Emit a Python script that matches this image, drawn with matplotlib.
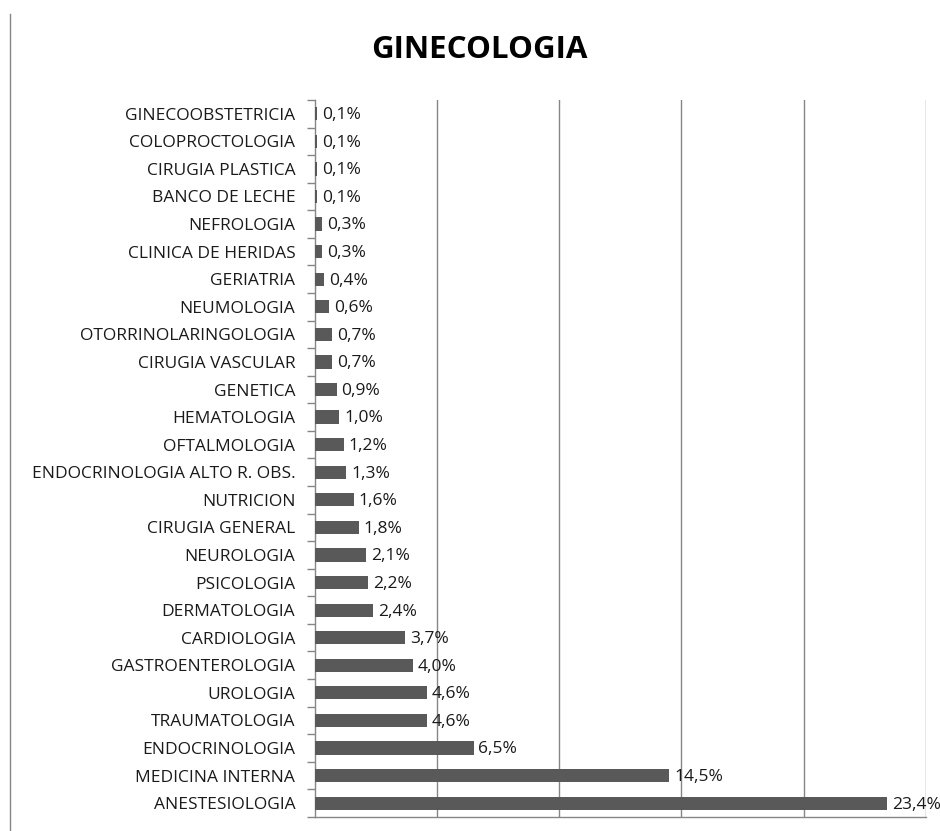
import matplotlib
matplotlib.use("Agg")
import matplotlib.pyplot as plt
from matplotlib.lines import Line2D

# ── datos (de arriba hacia abajo) ─────────────────────────
categorias = [
    "GINECOOBSTETRICIA", "COLOPROCTOLOGIA", "CIRUGIA PLASTICA", "BANCO DE LECHE",
    "NEFROLOGIA", "CLINICA DE HERIDAS", "GERIATRIA", "NEUMOLOGIA",
    "OTORRINOLARINGOLOGIA", "CIRUGIA VASCULAR", "GENETICA", "HEMATOLOGIA",
    "OFTALMOLOGIA", "ENDOCRINOLOGIA ALTO R. OBS.", "NUTRICION", "CIRUGIA GENERAL",
    "NEUROLOGIA", "PSICOLOGIA", "DERMATOLOGIA", "CARDIOLOGIA",
    "GASTROENTEROLOGIA", "UROLOGIA", "TRAUMATOLOGIA", "ENDOCRINOLOGIA",
    "MEDICINA INTERNA", "ANESTESIOLOGIA",
]
porcentajes = [
    0.1, 0.1, 0.1, 0.1, 0.3, 0.3, 0.4, 0.6, 0.7, 0.7, 0.9, 1.0, 1.2, 1.3,
    1.6, 1.8, 2.1, 2.2, 2.4, 3.7, 4.0, 4.6, 4.6, 6.5, 14.5, 23.4,
]
titulo = "GINECOLOGIA"

plt.rcParams["font.family"] = ["Open Sans", "DejaVu Sans"]
GRIS = "#868686"

fig = plt.figure(figsize=(9.4, 8.31), dpi=100)
ax = fig.add_axes([0.3348, 0.0169, 0.6502, 0.8628])

n = len(categorias)
pos = list(range(n - 1, -1, -1))  # primera categoria arriba
ax.barh(pos, porcentajes, height=0.48, color="#595959", zorder=3)

for y, v in zip(pos, porcentajes):
    ax.annotate(f"{v:.1f}%".replace(".", ","), (v, y), xytext=(3.5, -1),
                textcoords="offset points", va="center", ha="left",
                fontsize=12.5, color="#1a1a1a")

ax.set_xlim(0, 25)
ax.set_ylim(-0.5, n - 0.5)
ax.set_xticks([5, 10, 15, 20, 25])
ax.tick_params(axis="x", length=0, labelbottom=False)
ax.grid(axis="x", color=GRIS, linewidth=1, zorder=0)

ax.set_yticks(pos)
ax.set_yticklabels(categorias, fontsize=12.5, color="#1a1a1a")
ax.tick_params(axis="y", which="major", length=0, pad=14)
ax.set_yticks([i - 0.5 for i in range(n + 1)], minor=True)
ax.tick_params(axis="y", which="minor", length=6, color=GRIS, width=1)

for s in ("top", "right"):
    ax.spines[s].set_visible(False)
for s in ("left", "bottom"):
    ax.spines[s].set_color(GRIS)
    ax.spines[s].set_linewidth(1)

fig.text(479 / 940, 1 - 50 / 831, titulo, ha="center", va="center",
         fontsize=22.5, fontweight="bold", color="black")

# borde izquierdo del area del grafico
fig.add_artist(Line2D([10 / 940, 10 / 940], [0, 1 - 14 / 831],
                      transform=fig.transFigure, color=GRIS, linewidth=1))

fig.savefig("out.png", dpi=100)
